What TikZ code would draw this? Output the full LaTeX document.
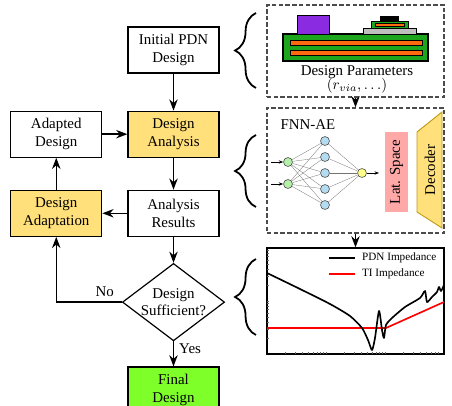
\documentclass[tikz,border=0pt]{standalone}
\usepackage{fontspec}
\setmainfont{Liberation Serif}
\usetikzlibrary{arrows.meta,positioning,shapes.geometric,decorations.pathreplacing}

\definecolor{anayellow}{HTML}{FFE07A}
\definecolor{finalgreen}{HTML}{7FFF2A}
\definecolor{pcbgreen}{HTML}{1EA51E}
\definecolor{traceorange}{HTML}{FF6A10}
\definecolor{chipviolet}{HTML}{8A2BE2}
\definecolor{latpink}{HTML}{FFA8A8}
\definecolor{decborder}{HTML}{C09A10}
\definecolor{ingreen}{HTML}{B4F0A8}
\definecolor{hidblue}{HTML}{B4DCF0}
\definecolor{outyellow}{HTML}{FFFF88}

\begin{document}
\begin{tikzpicture}[x=0.67pt,y=-0.67pt,thick,>={Stealth},
                    block/.style={draw,align=center,inner sep=1pt,
                                  minimum width=61pt,minimum height=30.8pt},
                    decision/.style={draw,diamond,align=center,inner sep=0pt,aspect=1.32,
                                     minimum width=68.3pt,minimum height=51.6pt},
                    panel/.style={draw=black!70,dash pattern=on 3pt off 1.5pt,
                                  minimum width=118.6pt},
                    flow/.style={->,line width=1pt},
                    bracket/.style={decorate,decoration={brace,amplitude=14pt},
                                    line width=1.2pt},
                    neuron/.style={circle,draw=black!70,thin,minimum size=6pt,inner sep=0pt},
                    link/.style={black!55,very thin},
                    legend/.style={anchor=west,inner sep=1pt,font=\fontsize{7.5}{9}\selectfont}]
  \useasboundingbox (0,0) rectangle (452,406);

  % design loop
  \node[block] (init) at (173.5,50) {Initial PDN\\Design};
  \node[block,fill=anayellow,below=24.8pt of init] (analysis) {Design\\Analysis};
  \node[block,left=16.75pt of analysis] (adapted) {Adapted\\Design};
  \node[block,below=21.4pt of analysis] (results) {Analysis\\Results};
  \node[block,fill=anayellow,left=16.75pt of results] (adapt) {Design\\Adaptation};
  \node[decision,below=17.4pt of results] (suff) {Design\\Sufficient?};
  \node[block,fill=finalgreen,below=16.75pt of suff] (final) {Final\\Design};
  \draw[flow] (init) -- (analysis);
  \draw[flow] (adapted) -- (analysis);
  \draw[flow] (analysis) -- (results);
  \draw[flow] (results) -- (adapt);
  \draw[flow] (adapt) -- (adapted);
  \draw[flow] (results) -- (suff);
  \draw[flow] (suff) -- node[right,pos=0.3] {Yes} (final);
  \draw[flow] (suff.west) -| node[above,pos=0.13] {No} (adapt.south);

  % braces
  \draw[bracket] (256,88) -- (256,13);
  \draw[bracket] (256,207) -- (256,135);
  \draw[bracket] (256,335) -- (256,259);

  % design parameters
  \node[panel,minimum height=61.6pt] (params) at (355.5,51) {};
  \draw[fill=pcbgreen] (283,34) rectangle (428,61);
  \draw[thin,fill=traceorange] (290,40) rectangle (422,45);
  \draw[thin,fill=traceorange] (290,50) rectangle (422,55);
  \draw[thin,fill=chipviolet] (297,15) rectangle (329,34);
  \draw[thin,fill=black!25] (363,28) rectangle (416,34);
  \draw[thin,fill=pcbgreen] (371,21) rectangle (408,28);
  \draw[thin,fill=traceorange] (375,23) rectangle (404,26);
  \draw[thin,fill=black] (380,16) rectangle (398,21);
  \node (paramtext) at (357,72) {Design Parameters};
  \node (paramvars) at (357,86) {$(r_{via},\dots)$};

  % surrogate model
  \node[panel,minimum height=83.75pt] (fnn) at (355.5,170.5) {};
  \node (fnnlabel) at (308,125) {FNN-AE};
  \foreach \i/\y in {1/162,2/184}
    \node[neuron,fill=ingreen] (in\i) at (288,\y) {};
  \foreach \i/\y in {1/141,2/157,3/173,4/189,5/205}
    \node[neuron,fill=hidblue] (hid\i) at (325,\y) {};
  \node[neuron,fill=outyellow] (out) at (362,173) {};
  \foreach \i in {1,2}
    \foreach \j in {1,...,5}
      \draw[link] (in\i) -- (hid\j);
  \foreach \j in {1,...,5}
    \draw[link] (hid\j) -- (out);
  \coordinate (feed1) at (271,162);
  \coordinate (feed2) at (271,184);
  \coordinate (latin) at (379,173);
  \draw[->,thin,>={Stealth[length=3pt]}] (feed1) -- (in1);
  \draw[->,thin,>={Stealth[length=3pt]}] (feed2) -- (in2);
  \draw[->,thin,>={Stealth[length=3pt]}] (out) -- (latin);
  \node[fill=latpink,rotate=90,minimum width=53.6pt,minimum height=15.4pt,inner sep=0pt]
    (latent) at (396.5,172) {Lat. Space};
  \draw[decborder,semithick,fill=anayellow] (417,132) -- (442,112) -- (442,228) -- (417,212) -- cycle;
  \node[rotate=90] (decoder) at (430,170) {Decoder};

  % impedance plot
  \node[draw,minimum width=118.6pt,minimum height=71pt] (plot) at (355.5,301) {};
  \foreach \k in {0.301,0.477,0.602,0.699,0.778,0.845,0.903,0.954,1,1.301,1.477,1.602,1.699,1.778,1.845,1.903,1.954,2,2.301,2.477,2.602,2.699,2.778,2.845,2.903}
    \draw[black!60,very thin] (267+59*\k,354) -- ++(0,-2);
  \foreach \k in {0.301,0.477,0.602,0.699,0.778,0.845,0.903,0.954,1,1.301,1.477,1.602,1.699,1.778,1.845,1.903,1.954}
    \draw[black!60,very thin] (267,354-53*\k) -- ++(2,0);
  \draw[red,line width=1.1pt] (267,328) -- (386,328) -- (444,302);
  \draw[line width=1.1pt,line join=round]
    plot[smooth,tension=0.4] coordinates {(267,273) (300,289) (330,304) (350,316)
      (362,328) (368,340) (372,350) (375,338) (379,311) (382,330) (384,338)
      (386,325) (392,318) (405,307) (420,298) (425,291) (427,302) (432,297)
      (437,292) (439,287) (441,291) (444,285)};
  \draw[line width=1.5pt] (329,258) -- (355,258);
  \draw[red,line width=1.5pt] (329,274) -- (355,274);
  \node[legend] (pdnlabel) at (360,258) {PDN Impedance};
  \node[legend] (tilabel) at (360,274) {TI Impedance};

  \draw[flow] (params) -- (fnn);
  \draw[flow] (fnn) -- (plot);
\end{tikzpicture}
\end{document}
